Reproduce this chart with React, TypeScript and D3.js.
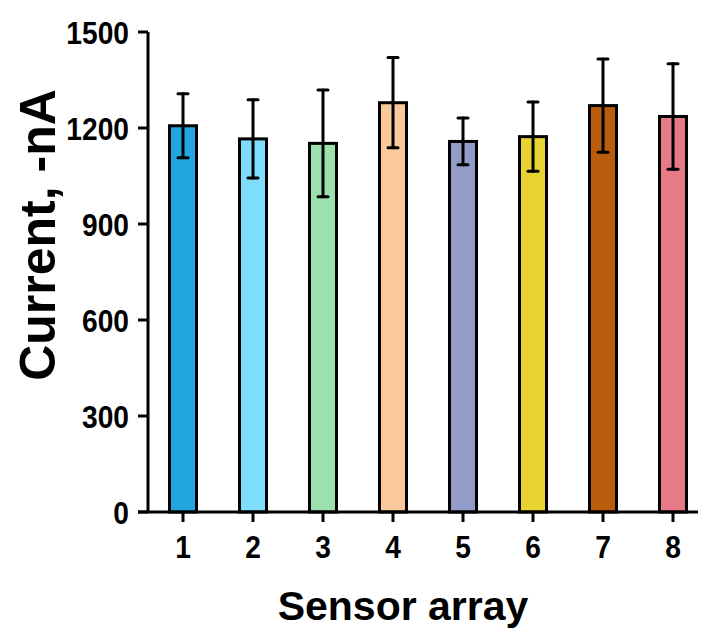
import React from "react";
import * as d3 from "d3";

const sensors = ["1", "2", "3", "4", "5", "6", "7", "8"];
const means = [1207, 1166, 1152, 1279, 1158, 1173, 1270, 1236];
const sds = [100, 122, 167, 141, 73, 108, 146, 165];
const colors = ["#21a6df", "#80dcfb", "#9ce1ad", "#f9c89b", "#939cc9", "#e9d330", "#b95d0c", "#e67a86"];
const yTicks = [0, 300, 600, 900, 1200, 1500];

const width = 702;
const height = 643;
const font = "'Liberation Sans', Arial, sans-serif";

export default function App() {
  const x = d3.scaleBand<string>().domain(sensors).range([148, 708]);
  const y = d3.scaleLinear().domain([0, 1500]).range([512, 32]);
  const barW = 27;
  const center = (s: string) => (x(s) ?? 0) + x.bandwidth() / 2;

  return (
    <svg width={width} height={height} style={{ position: "absolute", left: 0, top: 0 }}>
      {/* bars */}
      {sensors.map((s, i) => (
        <rect
          key={"b" + s}
          x={center(s) - barW / 2}
          y={y(means[i])}
          width={barW}
          height={y(0) - y(means[i])}
          fill={colors[i]}
          stroke="#000"
          strokeWidth={3}
        />
      ))}
      {/* error bars */}
      {sensors.map((s, i) => {
        const cx = center(s);
        const top = y(means[i] + sds[i]);
        const bot = y(means[i] - sds[i]);
        return (
          <g key={"e" + s} stroke="#000" strokeWidth={3} strokeLinecap="round">
            <line x1={cx} x2={cx} y1={top} y2={bot} />
            <line x1={cx - 5} x2={cx + 5} y1={top} y2={top} />
            <line x1={cx - 5} x2={cx + 5} y1={bot} y2={bot} />
          </g>
        );
      })}
      {/* y axis */}
      <line x1={148} x2={148} y1={y(1500)} y2={y(0)} stroke="#000" strokeWidth={3} />
      {yTicks.map((t) => (
        <g key={"y" + t}>
          <line x1={138} x2={148} y1={y(t)} y2={y(t)} stroke="#000" strokeWidth={3} />
          <text
            transform={`translate(129,${y(t) + 11.5}) scale(0.88,1)`}
            textAnchor="end"
            fontFamily={font}
            fontWeight="bold"
            fontSize={32}
          >
            {t}
          </text>
        </g>
      ))}
      {/* x axis */}
      <line x1={138} x2={698} y1={y(0)} y2={y(0)} stroke="#000" strokeWidth={3} />
      {sensors.map((s) => {
        const cx = center(s);
        return (
          <g key={"x" + s}>
            <line x1={cx} x2={cx} y1={y(0)} y2={y(0) + 10} stroke="#000" strokeWidth={3} />
            <text
              transform={`translate(${cx},558) scale(0.88,1)`}
              textAnchor="middle"
              fontFamily={font}
              fontWeight="bold"
              fontSize={32}
            >
              {s}
            </text>
          </g>
        );
      })}
      <text
        x={403}
        y={620}
        textAnchor="middle"
        fontFamily={font}
        fontWeight="bold"
        fontSize={41}
      >
        Sensor array
      </text>
      <text
        transform="translate(55,235) rotate(-90)"
        textAnchor="middle"
        fontFamily={font}
        fontWeight="bold"
        fontSize={50}
      >
        Current, -nA
      </text>
    </svg>
  );
}
